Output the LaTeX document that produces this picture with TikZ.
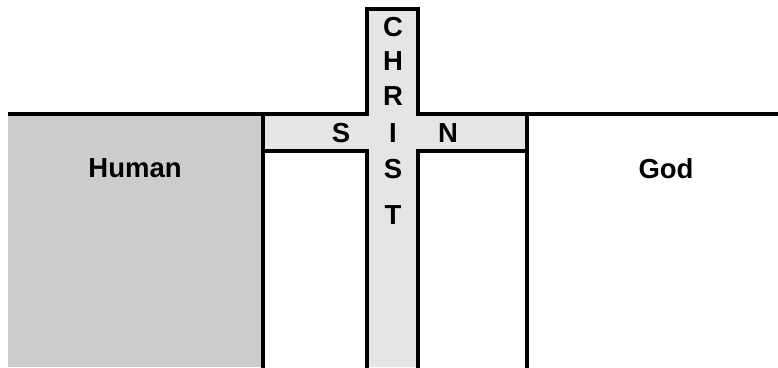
\documentclass[tikz,border=0pt]{standalone}
\usepackage{fontspec}
\setmainfont{Liberation Sans}
\usepackage{tikz}
\usetikzlibrary{positioning}

\begin{document}
\begin{tikzpicture}[
    x=1pt, y=-1pt,
    wall/.style={line width=3.6pt, line cap=rect},
    human/.style={fill=black!20},
    beam/.style={fill=black!10},
    word/.style={font=\fontsize{27.5}{28}\selectfont\bfseries, inner sep=0pt},
    letter/.style={word}]
    \useasboundingbox (0,0) rectangle (778,367);
    % Human side
    \fill[human] (8,114) rectangle (263,367);
    % Cross
    \fill[beam] (263,114) rectangle (527,151);
    \fill[beam] (367,9) rectangle (418,367);
    % ground line and walls
    \draw[wall] (9.8,114) -- (367,114) -- (367,9) -- (418,9) -- (418,114) -- (778,114);
    \draw[wall] (263,114) -- (263,367);
    \draw[wall] (527,114) -- (527,367);
    \draw[wall] (263,151) -- (367,151) -- (367,367);
    \draw[wall] (527,151) -- (418,151) -- (418,367);
    % labels
    \node[word] (hum) at (135,168.5) {Human};
    \node[word] (god) at (666,168.5) {God};
    \node[letter] (c) at (393,27.5) {C};
    \node[letter] (h) at (393,61.5) {H};
    \node[letter] (r) at (393,96) {R};
    \node[letter] (i) at (393,133.3) {I};
    \node[letter] (s) at (393,169) {S};
    \node[letter] (t) at (393,215) {T};
    \node[letter, left=52pt of i.center, anchor=center] (sin) {S};
    \node[letter, right=55pt of i.center, anchor=center] (n) {N};
\end{tikzpicture}
\end{document}
